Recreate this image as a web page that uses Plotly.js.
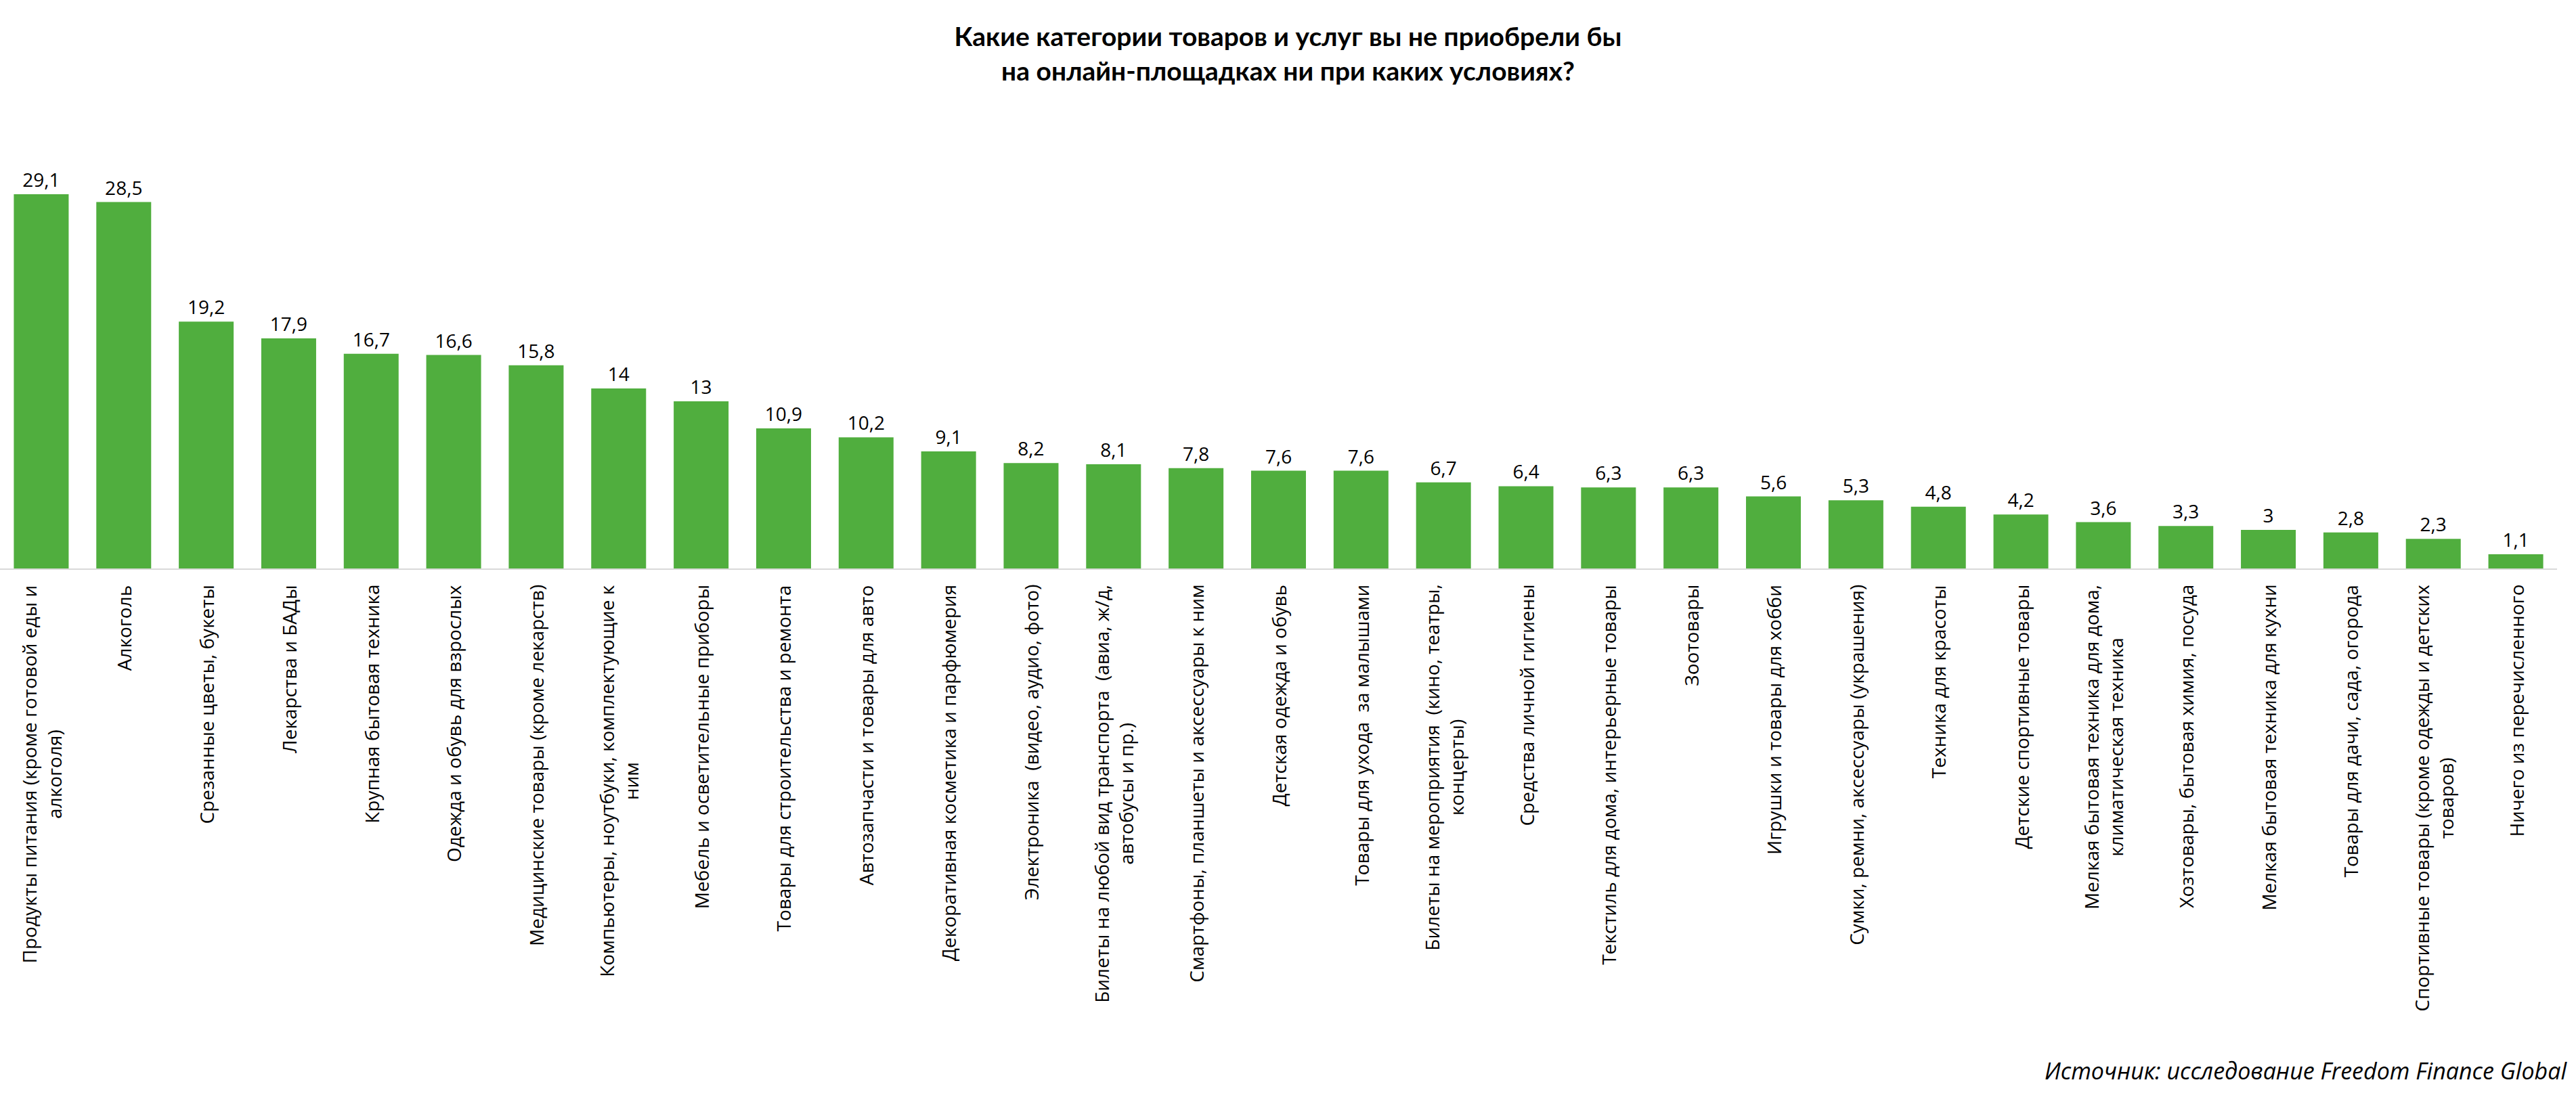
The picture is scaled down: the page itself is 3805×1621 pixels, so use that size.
<!DOCTYPE html>
<html>
<head>
<meta charset="utf-8">
<script src="https://cdn.plot.ly/plotly-3.0.1.min.js"></script>
<style>html,body{margin:0;padding:0;background:#fff;}</style>
</head>
<body>
<div id="chart" style="width:3805px;height:1621px;"></div>
<script>
const categories = [
  "Продукты питания (кроме готовой еды и<br>алкоголя)",
  "Алкоголь",
  "Срезанные цветы, букеты",
  "Лекарства и БАДы",
  "Крупная бытовая техника",
  "Одежда и обувь для взрослых",
  "Медицинские товары (кроме лекарств)",
  "Компьютеры, ноутбуки, комплектующие к<br>ним",
  "Мебель и осветительные приборы",
  "Товары для строительства и ремонта",
  "Автозапчасти и товары для авто",
  "Декоративная косметика и парфюмерия",
  "Электроника  (видео, аудио, фото)",
  "Билеты на любой вид транспорта  (авиа, ж/д,<br>автобусы и пр.)",
  "Смартфоны, планшеты и аксессуары к ним",
  "Детская одежда и обувь",
  "Товары для ухода  за малышами",
  "Билеты на мероприятия  (кино, театры,<br>концерты)",
  "Средства личной гигиены",
  "Текстиль для дома, интерьерные товары",
  "Зоотовары",
  "Игрушки и товары для хобби",
  "Сумки, ремни, аксессуары (украшения)",
  "Техника для красоты",
  "Детские спортивные товары",
  "Мелкая бытовая техника для дома,<br>климатическая техника",
  "Хозтовары, бытовая химия, посуда",
  "Мелкая бытовая техника для кухни",
  "Товары для дачи, сада, огорода",
  "Спортивные товары (кроме одежды и детских<br>товаров)",
  "Ничего из перечисленного"
];
const values = [29.1, 28.5, 19.2, 17.9, 16.7, 16.6, 15.8, 14, 13, 10.9, 10.2, 9.1, 8.2, 8.1, 7.8, 7.6, 7.6, 6.7, 6.4, 6.3, 6.3, 5.6, 5.3, 4.8, 4.2, 3.6, 3.3, 3, 2.8, 2.3, 1.1];
const titleText = "Какие категории товаров и услуг вы не приобрели бы<br>на онлайн-площадках ни при каких условиях?";
const sourceText = "Источник: исследование Freedom Finance Global";

const ids = categories.map((c, i) => "c" + i);
const valueLabels = values.map(v => String(v).replace(".", ","));

const trace = {
  type: "bar",
  x: ids,
  y: values,
  text: valueLabels,
  textposition: "outside",
  textfont: {family: "Open Sans", size: 28, color: "#000000"},
  cliponaxis: false,
  marker: {color: "#50AE3E"},
  hoverinfo: "skip"
};

const catAnnotations = categories.map((c, i) => ({
  x: ids[i], xref: "x",
  y: 0, yref: "paper",
  yanchor: "top", xanchor: "center",
  yshift: -22,
  text: c,
  textangle: -90,
  align: "center",
  showarrow: false,
  font: {family: "Open Sans", size: 28, color: "#000000"}
}));

const layout = {
  width: 3805, height: 1621,
  paper_bgcolor: "#ffffff", plot_bgcolor: "#ffffff",
  margin: {l: 0, r: 28, t: 270, b: 781, pad: 0},
  bargap: 0.335,
  showlegend: false,
  title: {
    text: titleText,
    font: {family: "Lato", size: 39, color: "#000000", weight: 700},
    x: 0.5, xanchor: "center",
    y: 1 - 68/1621, yanchor: "top", yref: "container"
  },
  xaxis: {
    type: "category",
    showticklabels: false,
    ticks: "",
    showline: true, linecolor: "#D9D9D9", linewidth: 2,
    showgrid: false, zeroline: false,
    fixedrange: true
  },
  yaxis: {
    range: [0, 30],
    visible: false,
    showgrid: false, zeroline: false,
    fixedrange: true
  },
  annotations: catAnnotations.concat([{
    x: 1, xref: "paper", xanchor: "right", xshift: 17,
    y: 0, yref: "paper", yanchor: "middle", yshift: -(1582 - 840),
    text: sourceText, showarrow: false,
    font: {family: "Open Sans", size: 34, color: "#000000", style: "italic"}
  }])
};

Plotly.newPlot("chart", [trace], layout, {displayModeBar: false, staticPlot: true});
</script>
</body>
</html>
